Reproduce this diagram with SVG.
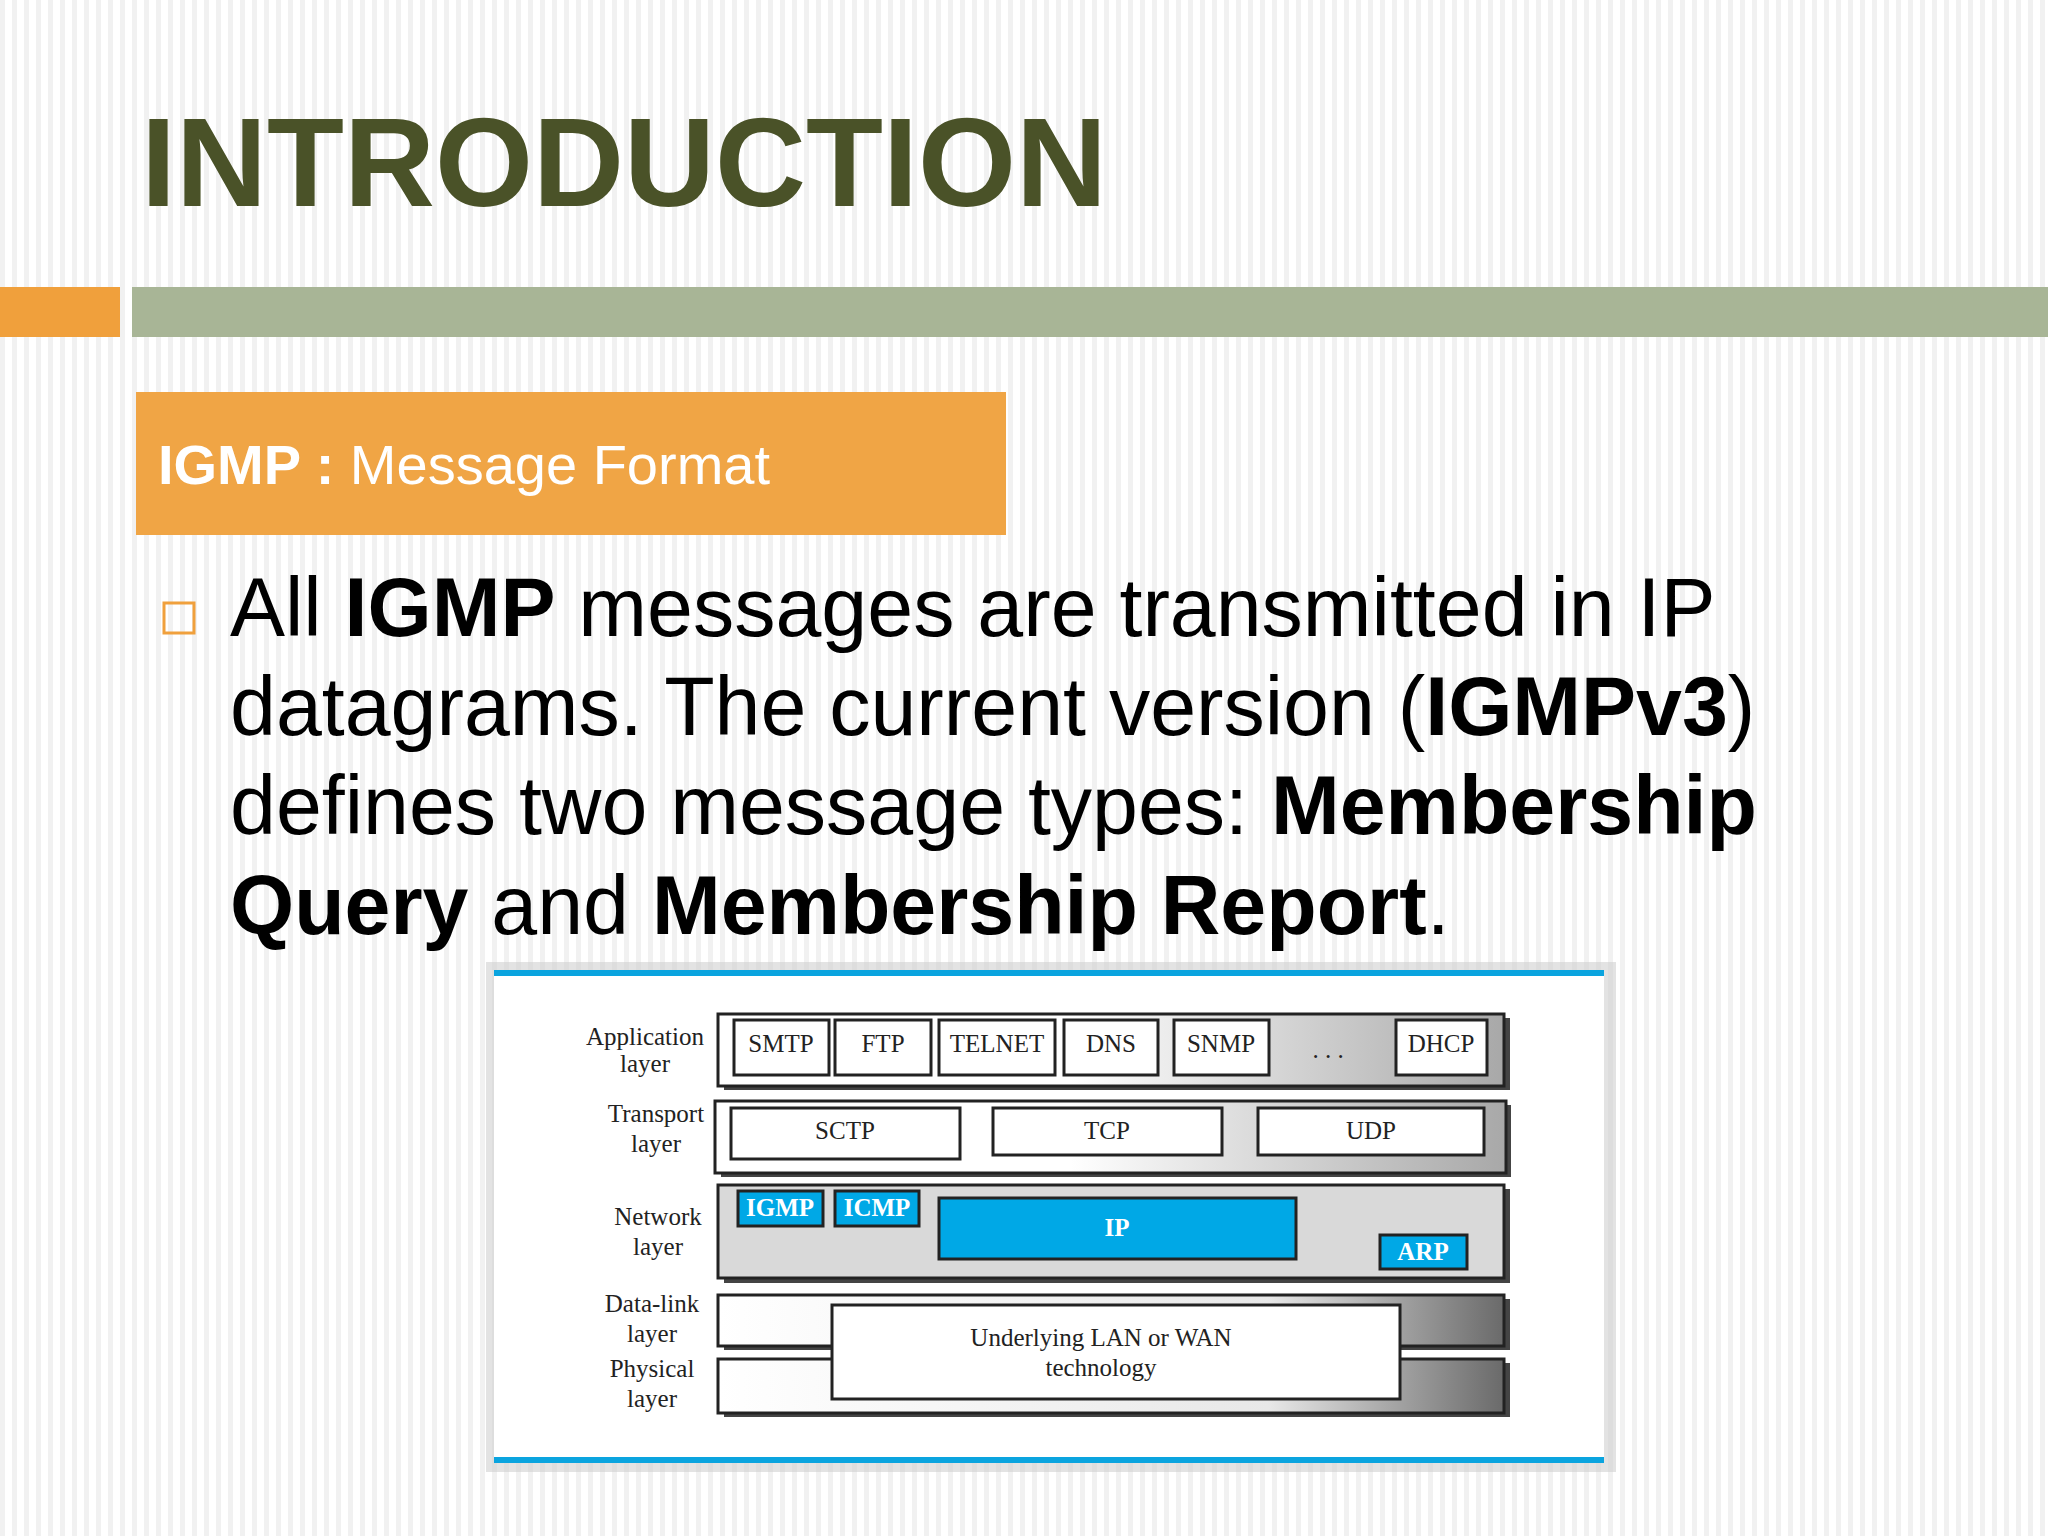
<svg xmlns="http://www.w3.org/2000/svg" width="2048" height="1536" viewBox="0 0 2048 1536">
<defs>
<pattern id="stripes" width="12" height="12" patternUnits="userSpaceOnUse"><rect width="12" height="12" fill="#ffffff"/><rect width="5" height="12" fill="#f1f1f1"/></pattern>
<linearGradient id="gw" x1="0" x2="1" y1="0" y2="0"><stop offset="0" stop-color="#fff"/><stop offset="0.45" stop-color="#fff"/><stop offset="1" stop-color="#a8a8a8"/></linearGradient>
<linearGradient id="gd" x1="0" x2="1" y1="0" y2="0"><stop offset="0" stop-color="#fff"/><stop offset="0.7" stop-color="#e8e8e8"/><stop offset="1" stop-color="#6a6a6a"/></linearGradient>
<style>
.b{font-family:"Liberation Sans",Arial,sans-serif;font-size:82.5px;fill:#000}
.d{font-family:"Liberation Serif","Times New Roman",serif;font-size:25px;fill:#222;text-anchor:middle}
.w{fill:#fff;font-weight:bold}
.f{stroke:#222;stroke-width:3}
.bx{fill:#fff;stroke:#222;stroke-width:3}
.bl{fill:#00a8e6;stroke:#222;stroke-width:3}
.sh{fill:#444}
</style>
</defs>
<rect width="2048" height="1536" fill="url(#stripes)"/>
<text x="141" y="206" font-family="Liberation Sans,Arial,sans-serif" font-weight="bold" font-size="126" fill="#4a5228">INTRODUCTION</text>
<rect x="0" y="287" width="120" height="50" fill="#f0a03c"/>
<rect x="132" y="287" width="1916" height="50" fill="#a8b596"/>
<rect x="136" y="392" width="870" height="143" fill="#f0a545"/>
<text x="158" y="484" font-family="Liberation Sans,Arial,sans-serif" font-size="56" fill="#fff"><tspan font-weight="bold">IGMP :</tspan> Message Format</text>
<rect x="164" y="603" width="30" height="30" fill="none" stroke="#f0a03c" stroke-width="3"/>
<text class="b" x="230" y="636"><tspan>All </tspan><tspan font-weight="bold">IGMP</tspan><tspan> messages are transmitted in IP</tspan></text>
<text class="b" x="230" y="735"><tspan>datagrams. The current version (</tspan><tspan font-weight="bold">IGMPv3</tspan><tspan>)</tspan></text>
<text class="b" x="230" y="834"><tspan>defines two message types: </tspan><tspan font-weight="bold">Membership</tspan></text>
<text class="b" x="230" y="934"><tspan font-weight="bold">Query</tspan><tspan> and </tspan><tspan font-weight="bold">Membership Report</tspan><tspan>.</tspan></text>
<g id="figure">
<rect x="486" y="962" width="1130" height="510" fill="#d0d0d0" opacity="0.6"/>
<rect x="494" y="970" width="1110" height="493" fill="#fff"/>
<rect x="494" y="970" width="1110" height="6" fill="#0aa4df"/>
<rect x="494" y="1457" width="1110" height="6" fill="#0aa4df"/>
</g>
<g id="layer-labels">
<text class="d" x="645" y="1045">Application</text><text class="d" x="645" y="1072">layer</text>
<text class="d" x="656" y="1122">Transport</text><text class="d" x="656" y="1152">layer</text>
<text class="d" x="658" y="1225">Network</text><text class="d" x="658" y="1255">layer</text>
<text class="d" x="652" y="1312">Data-link</text><text class="d" x="652" y="1342">layer</text>
<text class="d" x="652" y="1377">Physical</text><text class="d" x="652" y="1407">layer</text>
</g>
<g id="application">
<rect class="sh" x="724" y="1018" width="786" height="72"/>
<rect class="f" x="718" y="1014" width="786" height="72" fill="url(#gw)"/>
<g id="smtp"><rect class="bx" x="734" y="1020" width="95" height="55"/><text class="d" x="781" y="1052">SMTP</text></g>
<g id="ftp"><rect class="bx" x="835" y="1020" width="96" height="55"/><text class="d" x="883" y="1052">FTP</text></g>
<g id="telnet"><rect class="bx" x="939" y="1020" width="116" height="55"/><text class="d" x="997" y="1052">TELNET</text></g>
<g id="dns"><rect class="bx" x="1064" y="1020" width="94" height="55"/><text class="d" x="1111" y="1052">DNS</text></g>
<g id="snmp"><rect class="bx" x="1174" y="1020" width="95" height="55"/><text class="d" x="1221" y="1052">SNMP</text></g>
<text class="d" x="1328" y="1058">. . .</text>
<g id="dhcp"><rect class="bx" x="1396" y="1020" width="91" height="55"/><text class="d" x="1441" y="1052">DHCP</text></g>
</g>
<g id="transport">
<rect class="sh" x="721" y="1105" width="790" height="72"/>
<rect class="f" x="715" y="1101" width="791" height="72" fill="url(#gw)"/>
<g id="sctp"><rect class="bx" x="731" y="1108" width="229" height="51"/><text class="d" x="845" y="1139">SCTP</text></g>
<g id="tcp"><rect class="bx" x="993" y="1108" width="229" height="47"/><text class="d" x="1107" y="1139">TCP</text></g>
<g id="udp"><rect class="bx" x="1258" y="1108" width="226" height="47"/><text class="d" x="1371" y="1139">UDP</text></g>
</g>
<g id="network">
<rect class="sh" x="724" y="1189" width="786" height="94"/>
<rect class="f" x="718" y="1185" width="786" height="93" fill="#d9d9d9"/>
<g id="igmp"><rect class="bl" x="738" y="1191" width="85" height="35"/><text class="d w" x="780" y="1216">IGMP</text></g>
<g id="icmp"><rect class="bl" x="835" y="1191" width="84" height="35"/><text class="d w" x="877" y="1216">ICMP</text></g>
<g id="ip"><rect class="bl" x="939" y="1198" width="357" height="61"/><text class="d w" x="1117" y="1236">IP</text></g>
<g id="arp"><rect class="bl" x="1380" y="1235" width="87" height="34"/><text class="d w" x="1423" y="1260">ARP</text></g>
</g>
<g id="datalink">
<rect class="sh" x="724" y="1299" width="786" height="51"/>
<rect class="f" x="718" y="1295" width="786" height="51" fill="url(#gd)"/>
<rect class="sh" x="724" y="1363" width="786" height="54"/>
<rect class="f" x="718" y="1359" width="786" height="54" fill="url(#gd)"/>
<g id="underlying"><rect class="bx" x="832" y="1305" width="568" height="94"/><text class="d" x="1101" y="1346">Underlying LAN or WAN</text><text class="d" x="1101" y="1376">technology</text></g>
</g>
</svg>
